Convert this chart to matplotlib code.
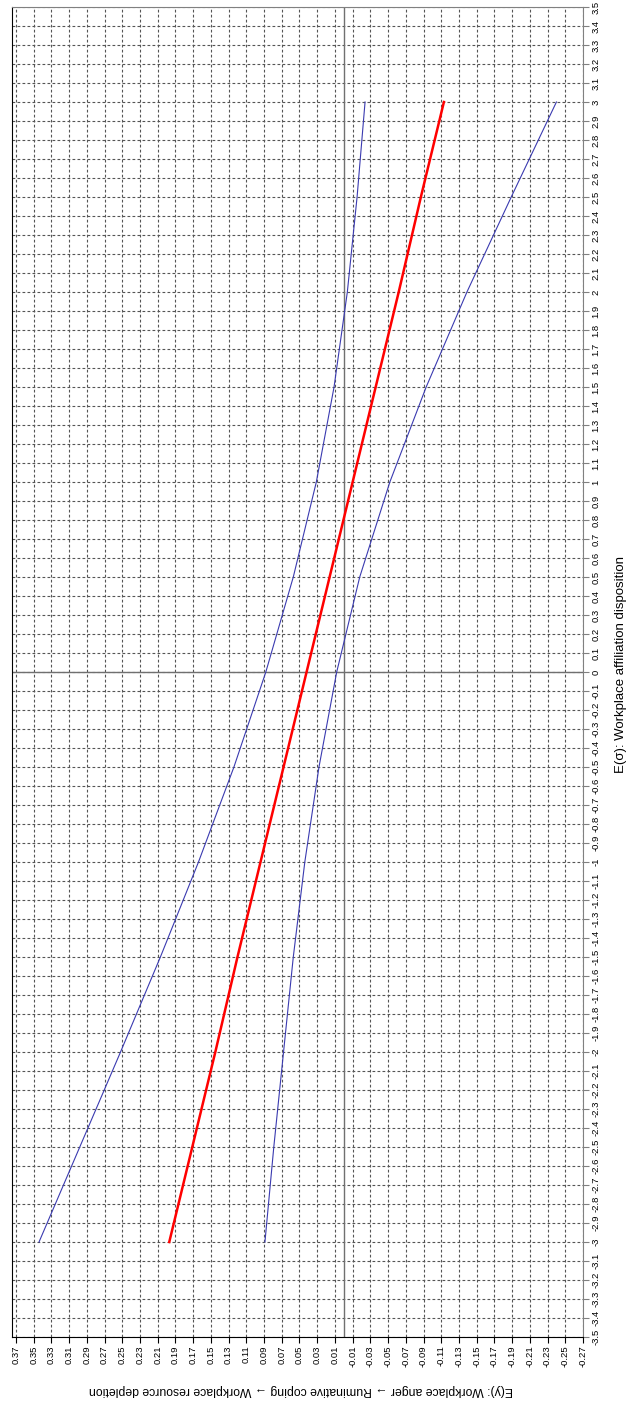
import numpy as np
import matplotlib
matplotlib.use("Agg")
import matplotlib.pyplot as plt

plt.rcParams['font.family'] = ['Liberation Sans', 'DejaVu Sans']

# moderator values E(sigma) and effects
sigma = [-3, -2.5, -2, -1.5, -1, -0.5, 0, 0.5, 1, 1.5, 2, 2.5, 3]
effect = [0.197, 0.171, 0.145, 0.120, 0.094, 0.068, 0.042, 0.016, -0.010, -0.036, -0.062, -0.087, -0.113]
upper_ci = [0.344, 0.298, 0.252, 0.207, 0.164, 0.124, 0.088, 0.057, 0.031, 0.011, -0.004, -0.015, -0.024]
lower_ci = [0.089, 0.079, 0.068, 0.057, 0.044, 0.028, 0.008, -0.018, -0.052, -0.093, -0.139, -0.189, -0.240]

# tick values
effect_ticks = [v / 100 for v in range(37, -28, -2)]
sigma_ticks = [v / 10 for v in range(-35, 36)]

xlabel_text = "E(σ): Workplace affiliation disposition"
ylabel_text = "E(y): Workplace anger → Ruminative coping → Workplace resource depletion"

W, H = 631, 1407
fig = plt.figure(figsize=(W / 100, H / 100), dpi=100)
# chart is drawn turned a quarter turn: effect runs across, sigma runs up
ax = fig.add_axes([12 / W, 1 - 1337 / H, (583 - 12) / W, (1337 - 7) / H])

ax.set_xlim(0.3745, -0.27)
ax.set_ylim(-3.5, 3.5)

ax.set_xticks(effect_ticks)
ax.set_xticklabels(["%.2f" % v for v in effect_ticks], rotation=90, fontsize=6.8)
ax.set_yticks(sigma_ticks)
ax.set_yticklabels(["%g" % round(v, 1) for v in sigma_ticks], rotation=90, fontsize=6.8,
                   va='center')
ax.yaxis.tick_right()
ax.tick_params(axis='x', length=4, width=0.8, color='black', pad=2)
ax.tick_params(axis='y', length=4, width=0.8, color='#808080', pad=2)

ax.grid(True, color='#555555', linestyle=(0, (2.5, 2)), linewidth=0.8)
ax.set_axisbelow(True)

for side in ['top', 'right']:
    ax.spines[side].set_color('#808080')
for side in ['left', 'bottom']:
    ax.spines[side].set_color('black')

# zero lines
ax.axvline(0, color='#707070', linewidth=1)
ax.axhline(0, color='#707070', linewidth=1)

ax.plot(upper_ci, sigma, color='#3a3ab0', linewidth=0.8)
ax.plot(lower_ci, sigma, color='#3a3ab0', linewidth=0.8)
ax.plot(effect, sigma, color='red', linewidth=1.8)

fig.text(301 / W, 1 - 1390 / H, ylabel_text, rotation=180, ha='center', va='center', fontsize=8.8)
fig.text(621 / W, 1 - 665 / H, xlabel_text, rotation=90, ha='center', va='center', fontsize=9.5)

fig.savefig("out.png", dpi=100)
